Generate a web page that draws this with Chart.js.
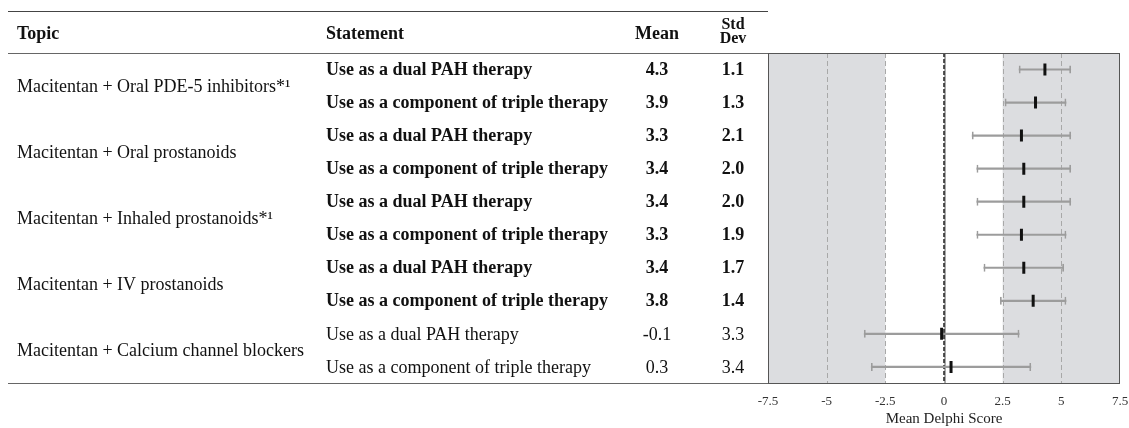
<!DOCTYPE html>
<html>
<head>
<meta charset="utf-8">
<script src="https://cdn.jsdelivr.net/npm/chart.js@4.4.1/dist/chart.umd.min.js"></script>
<style>
  html, body { margin: 0; padding: 0; background: #fff; }
  #wrap { position: relative; width: 1129px; height: 428px; }
</style>
</head>
<body>
<div id="wrap"><canvas id="chart" width="1129" height="428"></canvas></div>
<script>
// table + forest plot data
const topics = [
  'Macitentan + Oral PDE-5 inhibitors*¹',
  'Macitentan + Oral prostanoids',
  'Macitentan + Inhaled prostanoids*¹',
  'Macitentan + IV prostanoids',
  'Macitentan + Calcium channel blockers'
];
const statements = [
  'Use as a dual PAH therapy', 'Use as a component of triple therapy',
  'Use as a dual PAH therapy', 'Use as a component of triple therapy',
  'Use as a dual PAH therapy', 'Use as a component of triple therapy',
  'Use as a dual PAH therapy', 'Use as a component of triple therapy',
  'Use as a dual PAH therapy', 'Use as a component of triple therapy'
];
const means = [4.3, 3.9, 3.3, 3.4, 3.4, 3.3, 3.4, 3.8, -0.1, 0.3];
const stdDevs = [1.1, 1.3, 2.1, 2.0, 2.0, 1.9, 1.7, 1.4, 3.3, 3.4];
const consensus = [true, true, true, true, true, true, true, true, false, false];
const xTicks = [-7.5, -5, -2.5, 0, 2.5, 5, 7.5];
const shadedBands = [[-7.5, -2.5], [2.5, 7.5]];
const dashedLines = [-5, -2.5, 2.5, 5];

const SERIF = '"Liberation Serif", "DejaVu Serif", serif';
const ranges = means.map((m, i) => [+(m - stdDevs[i]).toFixed(2), +(m + stdDevs[i]).toFixed(2)]);

const TOPIC_X = 17, STMT_X = 326, MEAN_X = 657, SD_X = 733, TABLE_LEFT = 8;

const backdrop = {
  id: 'backdrop',
  beforeDatasetsDraw(chart) {
    const { ctx, chartArea: a, scales: { x } } = chart;
    ctx.save();
    ctx.fillStyle = '#dcdde0';
    shadedBands.forEach(([lo, hi]) => {
      const x0 = x.getPixelForValue(lo), x1 = x.getPixelForValue(hi);
      ctx.fillRect(x0, a.top, x1 - x0, a.bottom - a.top);
    });
    ctx.strokeStyle = '#a8a8a8';
    ctx.lineWidth = 1;
    ctx.setLineDash([5, 3]);
    dashedLines.forEach(v => {
      const px = Math.round(x.getPixelForValue(v)) + 0.5;
      ctx.beginPath(); ctx.moveTo(px, a.top); ctx.lineTo(px, a.bottom); ctx.stroke();
    });
    // zero line
    const z = Math.round(x.getPixelForValue(0));
    ctx.setLineDash([]);
    ctx.strokeStyle = '#555';
    ctx.lineWidth = 1;
    ctx.beginPath(); ctx.moveTo(z + 1, a.top); ctx.lineTo(z + 1, a.bottom); ctx.stroke();
    ctx.setLineDash([4, 2]);
    ctx.strokeStyle = '#222';
    ctx.lineWidth = 1.5;
    ctx.beginPath(); ctx.moveTo(z, a.top); ctx.lineTo(z, a.bottom); ctx.stroke();
    ctx.restore();
  }
};

const table = {
  id: 'table',
  afterDraw(chart) {
    const { ctx, chartArea: a, scales: { y } } = chart;
    ctx.save();
    // rules
    ctx.lineWidth = 1;
    ctx.strokeStyle = '#444';
    ctx.beginPath(); ctx.moveTo(TABLE_LEFT, 11.5); ctx.lineTo(a.left, 11.5); ctx.stroke();
    ctx.strokeStyle = '#666';
    ctx.beginPath(); ctx.moveTo(TABLE_LEFT, Math.round(a.top) + 0.5); ctx.lineTo(a.right, Math.round(a.top) + 0.5); ctx.stroke();
    ctx.beginPath(); ctx.moveTo(TABLE_LEFT, Math.round(a.bottom) + 0.5); ctx.lineTo(a.right, Math.round(a.bottom) + 0.5); ctx.stroke();
    ctx.strokeStyle = '#555';
    ctx.strokeRect(Math.round(a.left) + 0.5, Math.round(a.top) + 0.5, Math.round(a.right - a.left) - 1, Math.round(a.bottom - a.top));

    // header
    ctx.fillStyle = '#111';
    ctx.textBaseline = 'middle';
    ctx.font = 'bold 18px ' + SERIF;
    ctx.textAlign = 'left';
    ctx.fillText('Topic', TOPIC_X, 34);
    ctx.fillText('Statement', STMT_X, 34);
    ctx.textAlign = 'center';
    ctx.fillText('Mean', MEAN_X, 34);
    ctx.font = 'bold 16px ' + SERIF;
    ctx.fillText('Std', SD_X, 25);
    ctx.fillText('Dev', SD_X, 39);

    // body
    statements.forEach((s, i) => {
      const py = y.getPixelForValue(i) + 1;
      ctx.font = (consensus[i] ? 'bold ' : '') + '18px ' + SERIF;
      ctx.textAlign = 'left';
      ctx.fillText(s, STMT_X, py);
      ctx.textAlign = 'center';
      ctx.fillText(means[i].toFixed(1), MEAN_X, py);
      ctx.fillText(stdDevs[i].toFixed(1), SD_X, py);
    });
    ctx.font = '18px ' + SERIF;
    ctx.textAlign = 'left';
    topics.forEach((t, k) => {
      const py = (y.getPixelForValue(2 * k) + y.getPixelForValue(2 * k + 1)) / 2 + 1;
      ctx.fillText(t, TOPIC_X, py);
    });
    ctx.restore();
  }
};

new Chart(document.getElementById('chart'), {
  type: 'bar',
  data: {
    labels: statements,
    datasets: [
      {
        label: 'SD range',
        data: ranges,
        backgroundColor: '#9c9c9c',
        barThickness: 1.5,
        grouped: false,
        order: 2
      },
      {
        label: 'SD caps',
        data: ranges,
        backgroundColor: 'rgba(0,0,0,0)',
        borderColor: '#9c9c9c',
        borderWidth: { left: 1, right: 1, top: 0, bottom: 0 },
        borderSkipped: false,
        barThickness: 8,
        grouped: false,
        order: 1
      },
      {
        type: 'line',
        label: 'Mean',
        data: means,
        showLine: false,
        pointStyle: 'line',
        rotation: 90,
        pointRadius: 6,
        pointBorderWidth: 3,
        pointBorderColor: '#111',
        pointBackgroundColor: '#111',
        order: 0
      }
    ]
  },
  options: {
    indexAxis: 'y',
    responsive: false,
    animation: false,
    layout: { padding: { left: 768, right: 9, top: 53, bottom: 0 } },
    plugins: { legend: { display: false }, tooltip: { enabled: false } },
    scales: {
      y: { type: 'category', offset: true, display: false },
      x: {
        type: 'linear',
        min: -7.5,
        max: 7.5,
        afterBuildTicks: s => { s.ticks = xTicks.map(v => ({ value: v })); },
        // let the end labels overhang instead of shrinking the plot
        afterFit: s => { s.paddingLeft = 0; s.paddingRight = 0; },
        grid: { display: false, drawTicks: false },
        border: { display: false },
        ticks: {
          color: '#333',
          padding: 10,
          maxRotation: 0,
          font: { family: SERIF, size: 13 },
          callback: v => String(v)
        },
        title: {
          display: true,
          text: 'Mean Delphi Score',
          color: '#222',
          padding: { top: -9, bottom: 0 },
          font: { family: SERIF, size: 15 }
        }
      }
    }
  },
  plugins: [backdrop, table]
});
</script>
</body>
</html>
